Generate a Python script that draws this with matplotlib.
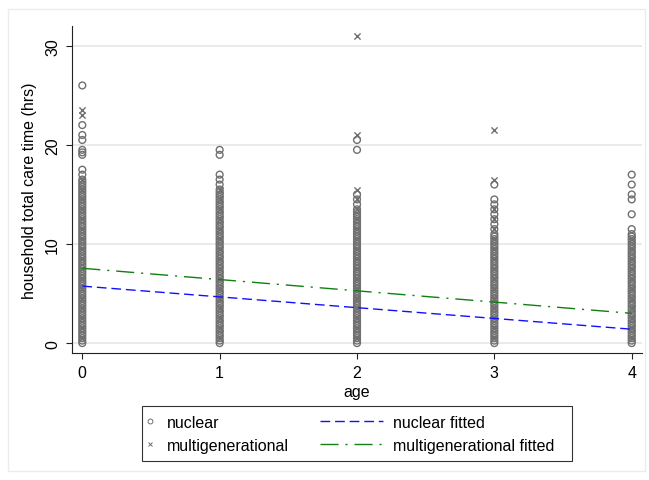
import matplotlib
matplotlib.use("Agg")
import matplotlib.pyplot as plt
import numpy as np
from matplotlib.lines import Line2D
from matplotlib.patches import Rectangle

plt.rcParams.update({
    "font.family": ["Liberation Sans", "DejaVu Sans"],
    "font.size": 11.5,
    "lines.scale_dashes": False,
})

ages = [0, 1, 2, 3, 4]

# household total care time (hrs) (quarter-hour values)
nuclear_age0 = [0, 0.25, 0.5, 0.75, 1, 1.25, 1.5, 1.75, 2, 2.25, 2.5, 2.75, 3, 3.25, 3.5, 3.75,
                4, 4.25, 4.5, 4.75, 5, 5.25, 5.5, 5.75, 6, 6.25, 6.5, 6.75, 7, 7.25, 7.5, 7.75,
                8, 8.25, 8.5, 8.75, 9, 9.25, 9.5, 9.75, 10, 10.25, 10.5, 10.75, 11, 11.25,
                11.5, 11.75, 12, 12.25, 12.5, 12.75, 13, 13.25, 13.5, 13.75, 14, 14.25, 14.5,
                14.75, 15, 15.25, 15.5, 15.75, 16, 16.25, 16.5, 17, 17.5,
                19, 19.25, 19.5, 20.5, 21, 22, 26]
nuclear_age1 = [0, 0.25, 0.5, 0.75, 1, 1.25, 1.5, 1.75, 2, 2.25, 2.5, 2.75, 3, 3.25, 3.5, 3.75,
                4, 4.25, 4.5, 4.75, 5, 5.25, 5.5, 5.75, 6, 6.25, 6.5, 6.75, 7, 7.25, 7.5, 7.75,
                8, 8.25, 8.5, 8.75, 9, 9.25, 9.5, 9.75, 10, 10.25, 10.5, 10.75, 11, 11.25,
                11.5, 11.75, 12, 12.25, 12.5, 12.75, 13, 13.25, 13.5, 13.75, 14, 14.25, 14.5,
                14.75, 15, 15.25, 15.5, 16, 16.5, 17, 19, 19.5]
nuclear_age2 = [0, 0.25, 0.5, 0.75, 1, 1.25, 1.5, 1.75, 2, 2.25, 2.5, 2.75, 3, 3.25, 3.5, 3.75,
                4, 4.25, 4.5, 4.75, 5, 5.25, 5.5, 5.75, 6, 6.25, 6.5, 6.75, 7, 7.25, 7.5, 7.75,
                8, 8.25, 8.5, 8.75, 9, 9.25, 9.5, 9.75, 10, 10.25, 10.5, 10.75, 11, 11.25,
                11.5, 11.75, 12, 12.25, 12.5, 12.75, 13, 13.25, 13.5, 14, 14.5, 15,
                19.5, 20.5]
nuclear_age3 = [0, 0.25, 0.5, 0.75, 1, 1.25, 1.5, 1.75, 2, 2.25, 2.5, 2.75, 3, 3.25, 3.5, 3.75,
                4, 4.25, 4.5, 4.75, 5, 5.25, 5.5, 5.75, 6, 6.25, 6.5, 6.75, 7, 7.25, 7.5, 7.75,
                8, 8.25, 8.5, 8.75, 9, 9.25, 9.5, 9.75, 10, 10.25, 10.5, 10.75, 11, 11.5,
                12, 12.5, 13, 13.5, 14, 14.5, 16]
nuclear_age4 = [0, 0.25, 0.5, 0.75, 1, 1.25, 1.5, 1.75, 2, 2.25, 2.5, 2.75, 3, 3.25, 3.5, 3.75,
                4, 4.25, 4.5, 4.75, 5, 5.25, 5.5, 5.75, 6, 6.25, 6.5, 6.75, 7, 7.25, 7.5, 7.75,
                8, 8.25, 8.5, 8.75, 9, 9.25, 9.5, 9.75, 10, 10.25, 10.5, 10.75, 11, 11.5,
                13, 14.5, 15, 16, 17]

multi_age0 = [0.5, 1.5, 2.5, 3.5, 4.5, 5.5, 6.5, 7.5, 8.5, 9.5, 10.5, 11.5, 12.5, 13.5,
              14.5, 15.5, 16.5, 23, 23.5]
multi_age1 = [0.5, 1.5, 2.5, 3.5, 4.5, 5.5, 6.5, 7.5, 8.5, 9.5, 10.5, 11.5, 12.5, 13.5,
              14.5, 15.5]
multi_age2 = [0.5, 1.5, 2.5, 3.5, 4.5, 5.5, 6.5, 7.5, 8.5, 9.5, 10.5, 11.5, 12.5, 13.5,
              14.5, 15.5, 21, 31]
multi_age3 = [0.5, 1.5, 2.5, 3.5, 4.5, 5.5, 6.5, 7.5, 8.5, 9.5, 10.5, 11.5, 12.5, 13.5,
              16.5, 21.5]
multi_age4 = [0.5, 1.5, 2.5, 3.5, 4.5, 5.5, 6.5, 7.5, 8.5, 9.5, 10.5]

fit_ages = [0, 4]
nuclear_fit = [5.75, 1.4]
multi_fit = [7.55, 3.0]

nuclear = [nuclear_age0, nuclear_age1, nuclear_age2, nuclear_age3, nuclear_age4]
multi = [multi_age0, multi_age1, multi_age2, multi_age3, multi_age4]

nx = np.concatenate([[a] * len(v) for a, v in zip(ages, nuclear)])
ny = np.concatenate(nuclear)
mx = np.concatenate([[a] * len(v) for a, v in zip(ages, multi)])
my = np.concatenate(multi)

W, H = 649, 481
fig = plt.figure(figsize=(W / 100, H / 100), dpi=100)
fig.patches.append(Rectangle((8 / W, 1 - 472 / H), 637 / W, 462 / H,
                             transform=fig.transFigure, fill=False,
                             edgecolor="#ececec", lw=1))
ax = fig.add_axes([72 / W, 1 - 354 / H, 570 / W, 327 / H])

for v in [0, 10, 20, 30]:
    ax.axhline(v, color="#eaeaea", lw=1.4, zorder=0)

gray = "#707070"
ax.scatter(nx, ny, marker="o", s=24, facecolors="none", edgecolors=gray,
           linewidths=1.0, zorder=2)
ax.scatter(mx, my, marker="x", s=20, color=gray, linewidths=1.0, zorder=2)

ax.plot(fit_ages, nuclear_fit, color="#1010ff", lw=1.0, dashes=(7, 3.5), zorder=3)
ax.plot(fit_ages, multi_fit, color="#108010", lw=1.0, dashes=(13, 5, 1.5, 5), zorder=3)

ax.set_xlim(-0.075, 4.075)
ax.set_ylim(-1, 32)
ax.set_xticks(ages)
ax.set_yticks([0, 10, 20, 30])
for s in ["top", "right"]:
    ax.spines[s].set_visible(False)
for s in ["left", "bottom"]:
    ax.spines[s].set_color("#222222")
    ax.spines[s].set_linewidth(0.8)
ax.tick_params(length=4.5, width=0.8, color="#222222", pad=4)
ax.tick_params(axis="y", labelrotation=90)
for lab in ax.get_yticklabels():
    lab.set_va("center")
ax.set_xlabel("age", labelpad=3)
ax.set_ylabel("household total care time (hrs)", labelpad=6)

h1 = [Line2D([], [], ls="none", marker="o", ms=3.5, mfc="none", mec=gray, mew=0.7),
      Line2D([], [], ls="none", marker="x", ms=3.5, mec=gray, mew=0.7)]
h2 = [Line2D([], [], color="#1010ff", lw=1.0, dashes=(7, 3.5)),
      Line2D([], [], color="#108010", lw=1.0, dashes=(13, 5, 1.5, 5))]
leg1 = fig.legend(h1, ["nuclear", "multigenerational"], loc="upper left",
                  bbox_to_anchor=(142 / W, 1 - 416 / H), frameon=False,
                  borderpad=0, borderaxespad=0, handlelength=1.0,
                  handletextpad=0.56, labelspacing=0.5)
leg2 = fig.legend(h2, ["nuclear fitted", "multigenerational fitted"], loc="upper left",
                  bbox_to_anchor=(320 / W, 1 - 416 / H), frameon=False,
                  borderpad=0, borderaxespad=0, handlelength=3.94,
                  handletextpad=0.63, labelspacing=0.5)
fig.patches.append(Rectangle((142 / W, 1 - 462 / H), 430 / W, 55 / H,
                             transform=fig.transFigure, fill=False,
                             edgecolor="#333333", lw=0.8))

fig.savefig("out.png", dpi=100)
